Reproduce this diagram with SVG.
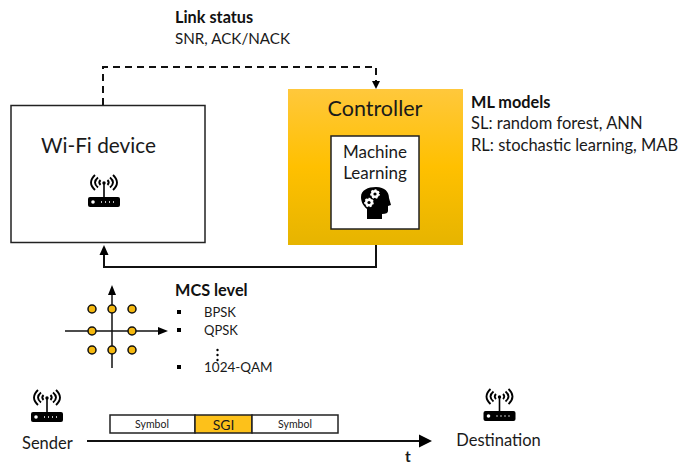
<svg xmlns="http://www.w3.org/2000/svg" width="694" height="464" viewBox="0 0 694 464">
<style>
text{font-family:Lato,"Open Sans","Liberation Sans",sans-serif;fill:#1a1a1a}
.b{font-weight:700;font-size:16.3px;fill:#111}
.t{font-size:16.500px}
.s{font-size:13px}
.box{fill:#fff;stroke:#222;stroke-width:1.5}
.line{fill:none;stroke:#111;stroke-width:2}
.dot{fill:#f5b80f;stroke:#111;stroke-width:1.5}
.arc{fill:none;stroke:#000;stroke-width:1.9}
.gear{fill:#fff;stroke:#fff;stroke-width:1.7;stroke-dasharray:1.8 1.8}
</style>
<defs>
<linearGradient id="gold" x1="0" y1="0" x2="0" y2="1">
<stop offset="0" stop-color="#ffc83c"/><stop offset="0.5" stop-color="#ffc000"/><stop offset="1" stop-color="#e6b400"/>
</linearGradient>
<g id="router">
<rect x="-16" y="6" width="32" height="10" rx="2" fill="#000"/>
<circle cx="-11" cy="11" r="1.800" fill="#fff"/>
<path d="M-3 11h1M1 11h1M5 11h1M9 11h1" stroke="#fff" stroke-width="1.500"/>
<path d="M0 7V-8" stroke="#000" stroke-width="1.600"/>
<circle cx="0" cy="-8" r="1.700"/>
<path class="arc" d="M-3.500-11Q-6-8.500-3.500-6M3.500-11Q6-8.500 3.500-6M-6-13.500Q-12-8.500-6-3.500M6-13.500Q12-8.500 6-3.500M-9-16Q-17-8.500-9-1M9-16Q17-8.500 9-1"/>
</g>
</defs>

<g id="connectors">
<path class="line" stroke-dasharray="7 5" d="M103 105V67H376V82"/>
<path d="M372 81h8L376 89Z" fill="#000"/>
<path class="line" d="M376 245V267H104V253"/>
<path d="M99.500 255h9L104 245Z" fill="#000"/>
<path d="M112 368V290" class="line" style="stroke-width:1.500"/>
<path d="M108 295h8L112 285Z" fill="#000"/>
<path d="M65 331H160" class="line" style="stroke-width:1.500"/>
<path d="M158 327v8L168 331Z" fill="#000"/>
<path d="M87 441H420" class="line"/>
<path d="M419 434.500V447.500L432 441Z" fill="#000"/>
</g>

<g id="wifi-device">
<rect class="box" x="11" y="105.500" width="194" height="137"/>
<text x="98.500" y="153" text-anchor="middle" style="font-size:20.800px">Wi-Fi device</text>
<use href="#router" x="104" y="191"/>
</g>

<g id="controller">
<rect x="288" y="89" width="175" height="156" fill="url(#gold)"/>
<text x="375" y="116" text-anchor="middle" style="font-size:21.500px">Controller</text>
</g>

<g id="machine-learning">
<rect class="box" x="331" y="136" width="88" height="93"/>
<text x="375" y="158" text-anchor="middle" style="font-size:17px">Machine</text>
<text x="375" y="179" text-anchor="middle" style="font-size:17px">Learning</text>
<path d="M367 219V209C362 205 361 200 361 197C361 190 368 187 376 187C385 187 389 192 389 198L391 205L388 206V211C388 213 386 214 382 214V219Z" fill="#000"/>
<circle class="gear" cx="375" cy="194" r="4"/><circle cx="375" cy="194" r="1.600" fill="#000"/>
<circle class="gear" cx="369" cy="202.500" r="4"/><circle cx="369" cy="202.500" r="1.600" fill="#000"/>
</g>

<g id="link-status">
<text class="b" x="175" y="23">Link status</text>
<text class="t" x="175" y="44" style="font-size:15.200px">SNR, ACK/NACK</text>
</g>

<g id="ml-models">
<text class="b" x="471" y="108">ML models</text>
<text class="t" x="471" y="129">SL: random forest, ANN</text>
<text class="t" x="471" y="151">RL: stochastic learning, MAB</text>
</g>

<g id="constellation">
<circle class="dot" cx="92" cy="309" r="4"/><circle class="dot" cx="112" cy="309" r="4"/><circle class="dot" cx="132" cy="309" r="4"/>
<circle class="dot" cx="92" cy="331" r="4"/><circle class="dot" cx="132" cy="331" r="4"/>
<circle class="dot" cx="92" cy="350" r="4"/><circle class="dot" cx="112" cy="350" r="4"/><circle class="dot" cx="132" cy="350" r="4"/>
</g>

<g id="mcs-level">
<text class="b" x="175" y="296">MCS level</text>
<rect x="177" y="310" width="4" height="4" fill="#000"/>
<rect x="177" y="328" width="4" height="4" fill="#000"/>
<rect x="177" y="365" width="4" height="4" fill="#000"/>
<text class="s" x="204" y="317">BPSK</text>
<text class="s" x="204" y="335">QPSK</text>
<circle cx="217.500" cy="350" r="1.200" fill="#000"/><circle cx="217.500" cy="355" r="1.200" fill="#000"/><circle cx="217.500" cy="360" r="1.200" fill="#000"/>
<text class="s" x="204" y="372" style="font-size:13.500px">1024-QAM</text>
</g>

<g id="sender">
<use href="#router" x="47" y="406"/>
<text x="22" y="449" style="font-size:16.500px">Sender</text>
</g>

<g id="destination">
<use href="#router" x="499.500" y="405"/>
<text x="498.500" y="446" text-anchor="middle" style="font-size:16.500px">Destination</text>
</g>

<g id="symbol-frame">
<rect class="box" x="110" y="415" width="85" height="18"/>
<rect x="195" y="415" width="57" height="18" fill="#fdc11a" stroke="#222" stroke-width="1.500"/>
<rect class="box" x="252" y="415" width="86" height="18"/>
<text x="152" y="428" text-anchor="middle" style="font-size:10.500px">Symbol</text>
<text x="223.500" y="430" text-anchor="middle" style="font-size:14px">SGI</text>
<text x="295" y="428" text-anchor="middle" style="font-size:10.500px">Symbol</text>
</g>

<g id="time-label">
<text x="408" y="462" text-anchor="middle" style="font-size:15.500px;font-weight:700">t</text>
</g>
</svg>
